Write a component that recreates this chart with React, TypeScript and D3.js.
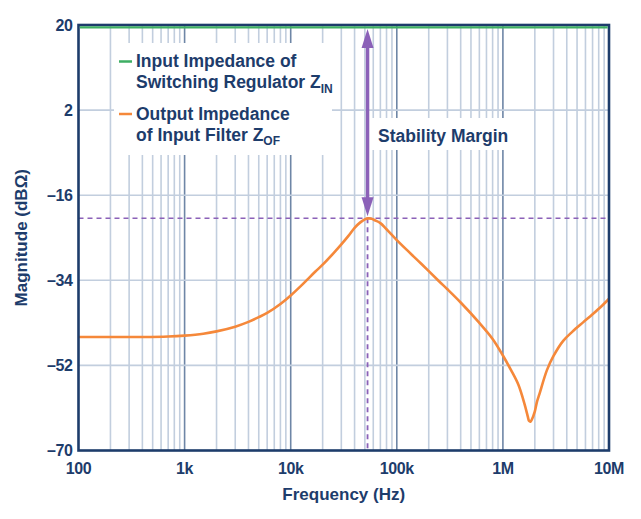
import React from "react";
import * as d3 from "d3";

const freqHz = [
  100, 200, 400, 700, 1000, 1500, 2000, 3000, 4000, 5000, 6000, 8000, 10000,
  13000, 17000, 20000, 25000, 30000, 35000, 40000, 45000, 50000, 54000, 58000,
  62000, 70000, 80000, 100000, 130000, 170000, 250000, 300000, 400000, 600000,
  800000, 1000000, 1200000, 1400000, 1600000, 1720000, 1760000, 1820000,
  1870000, 2000000, 2100000, 2200000, 2600000, 3000000, 3700000, 4500000,
  5700000, 7000000, 8500000, 10000000,
];
const zofDb = [
  -46.0, -46.0, -46.0, -45.9, -45.7, -45.3, -44.8, -43.8, -42.8, -41.8, -40.9,
  -39.0, -37.2, -34.8, -32.2, -30.7, -28.4, -26.4, -24.6, -22.9, -21.8, -21.1,
  -20.9, -21.0, -21.3, -21.9, -23.2, -25.5, -28.0, -30.5, -34.2, -35.9, -38.7,
  -43.0, -46.4, -49.9, -53.1, -56.1, -60.2, -62.9, -63.7, -63.9, -63.5, -61.7,
  -59.6, -58.2, -53.0, -50.0, -46.8, -44.9, -42.9, -41.2, -39.5, -37.9,
];
const zinDb = 20;
const peakFreq = 53000;
const peakDb = -20.9;

const yTicks = [20, 2, -16, -34, -52, -70];
const xTicks = [100, 1000, 10000, 100000, 1000000, 10000000];
const xTickLabels = ["100", "1k", "10k", "100k", "1M", "10M"];

const legendLabels = [
  ["Input Impedance of", "Switching Regulator Z", "IN"],
  ["Output Impedance", "of Input Filter Z", "OF"],
];
const marginLabel = "Stability Margin";
const xTitle = "Frequency (Hz)";
const yTitle = "Magnitude (dBΩ)";

const NAVY = "#1d3c6b";
const GRID = "#c2cede";
const GRID_DEC = "#6e86a6";
const ORANGE = "#f5883a";
const GREEN = "#3eae63";
const PURPLE = "#8b61b8";
const FONT = "'Liberation Sans', Arial, Helvetica, sans-serif";

export default function App() {
  const W = 641;
  const H = 519;
  const x = d3.scaleLog().domain([100, 1e7]).range([78.5, 609]);
  const y = d3.scaleLinear().domain([-70, 20]).range([450.5, 25]);

  const minor: number[] = [];
  const decades: number[] = [];
  for (let e = 2; e < 7; e++) {
    const base = Math.pow(10, e);
    if (e > 2) decades.push(base);
    for (let m = 2; m <= 9; m++) minor.push(base * m);
  }

  const line = d3
    .line<number>()
    .x((_, i) => x(freqHz[i]))
    .y((d) => y(d))
    .curve(d3.curveCatmullRom.alpha(0.5));

  const ax = x(peakFreq);
  const yTop = y(zinDb) + 4;
  const yBot = y(peakDb) - 2;
  const headH = 19;
  const headW = 6;

  const x0 = x.range()[0];
  const x1 = x.range()[1];
  const y0 = y.range()[1];
  const y1 = y.range()[0];

  return (
    <svg
      width={W}
      height={H}
      style={{ position: "absolute", left: 0, top: 0, background: "#fff" }}
      fontFamily={FONT}
      fontWeight="bold"
    >
      <rect x={0} y={0} width={W} height={H} fill="#fff" />
      {/* grid */}
      {minor.map((f) => (
        <line key={"m" + f} x1={x(f)} x2={x(f)} y1={y0} y2={y1} stroke={GRID} strokeWidth={1.6} />
      ))}
      {decades.map((f) => (
        <line key={"d" + f} x1={x(f)} x2={x(f)} y1={y0} y2={y1} stroke={GRID_DEC} strokeWidth={1.6} />
      ))}
      {yTicks.slice(1, -1).map((v) => (
        <line key={"h" + v} x1={x0} x2={x1} y1={y(v)} y2={y(v)} stroke={GRID} strokeWidth={1.6} />
      ))}

      {/* white boxes behind labels */}
      <rect x={114} y={43} width={218} height={112} fill="#fff" />
      <rect x={370} y={118} width={146} height={32} fill="#fff" />

      {/* dashed guides */}
      <line x1={x0} x2={x1} y1={y(peakDb)} y2={y(peakDb)} stroke={PURPLE} strokeWidth={1.5} strokeDasharray="5,4" />
      <line x1={ax} x2={ax} y1={y(peakDb)} y2={y1} stroke={PURPLE} strokeWidth={1.8} strokeDasharray="5,4" />

      {/* Z_OF curve */}
      <path d={line(zofDb) || ""} fill="none" stroke={ORANGE} strokeWidth={2.6} strokeLinejoin="round" />

      {/* frame */}
      <rect x={x0} y={y0} width={x1 - x0} height={y1 - y0} fill="none" stroke={NAVY} strokeWidth={2.6} />
      {/* Z_IN line */}
      <line x1={x0 + 1.3} x2={x1 - 1.3} y1={y(zinDb) + 2.4} y2={y(zinDb) + 2.4} stroke={GREEN} strokeWidth={2.2} />

      {/* stability margin arrow */}
      <line x1={ax} x2={ax} y1={yTop + headH - 2} y2={yBot - headH + 2} stroke={PURPLE} strokeWidth={3.5} />
      <path d={`M${ax},${yTop} L${ax + headW},${yTop + headH} L${ax - headW},${yTop + headH} Z`} fill={PURPLE} />
      <path d={`M${ax},${yBot} L${ax + headW},${yBot - headH} L${ax - headW},${yBot - headH} Z`} fill={PURPLE} />

      {/* y tick labels */}
      {yTicks.map((v) => (
        <text key={"yt" + v} x={72.5} y={y(v) + 5.5} textAnchor="end" fontSize={16} fill={NAVY} letterSpacing={-0.4}>
          {v < 0 ? "\u2013" + Math.abs(v) : String(v)}
        </text>
      ))}
      {/* x tick labels */}
      {xTicks.map((f, i) => (
        <text key={"xt" + f} x={x(f)} y={474} textAnchor="middle" fontSize={16} fill={NAVY} letterSpacing={-0.4}>
          {xTickLabels[i]}
        </text>
      ))}

      {/* axis titles */}
      <text x={(x0 + x1) / 2} y={500} textAnchor="middle" fontSize={17} fill={NAVY}>
        {xTitle}
      </text>
      <text
        transform={`translate(27,${(y0 + y1) / 2}) rotate(-90)`}
        textAnchor="middle"
        fontSize={17}
        fill={NAVY}
      >
        {yTitle}
      </text>

      {/* legend */}
      <line x1={119} x2={132} y1={61.5} y2={61.5} stroke={GREEN} strokeWidth={2.5} />
      <text x={136} y={67} fontSize={17.5} fill={NAVY}>{legendLabels[0][0]}</text>
      <text x={136} y={88} fontSize={17.5} fill={NAVY}>
        {legendLabels[0][1]}
        <tspan fontSize={12} dy={4.5}>{legendLabels[0][2]}</tspan>
      </text>
      <line x1={119} x2={132} y1={114} y2={114} stroke={ORANGE} strokeWidth={2.5} />
      <text x={136} y={119.5} fontSize={17.5} fill={NAVY}>{legendLabels[1][0]}</text>
      <text x={136} y={140.5} fontSize={17.5} fill={NAVY}>
        {legendLabels[1][1]}
        <tspan fontSize={12} dy={4.5}>{legendLabels[1][2]}</tspan>
      </text>

      {/* stability margin label */}
      <text x={378} y={141.5} fontSize={17.5} fill={NAVY}>
        {marginLabel}
      </text>
    </svg>
  );
}
